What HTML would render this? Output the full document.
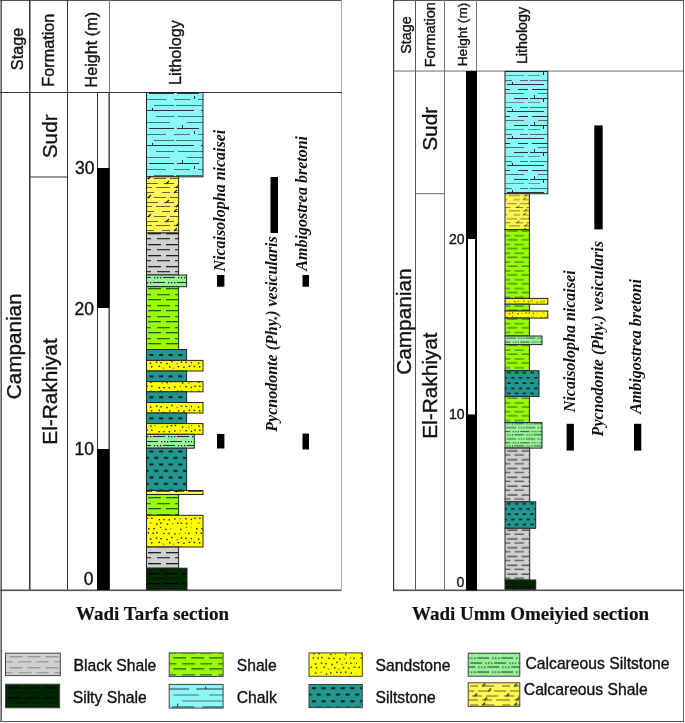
<!DOCTYPE html>
<html><head><meta charset="utf-8"><title>Stratigraphic sections</title>
<style>
html,body{margin:0;padding:0;background:#fff;width:685px;height:723px;overflow:hidden}
svg{display:block;will-change:transform}
</style></head><body>
<svg width="685" height="723" viewBox="0 0 685 723" shape-rendering="auto">
<defs>
<pattern id="chalk" patternUnits="userSpaceOnUse" width="58" height="35" x="0" y="3">
<rect width="58" height="35" fill="#8cf9f9"/>
<rect x="0" y="2" width="20" height="1" fill="#2a3434"/>
<rect x="27" y="2" width="31" height="1" fill="#2a3434"/>
<rect x="36" y="-1" width="1" height="3" fill="#1a2a2a"/>
<rect x="4" y="8" width="26" height="1" fill="#4e7070"/>
<rect x="40" y="8" width="18" height="1" fill="#4e7070"/>
<rect x="13" y="14" width="41" height="1" fill="#4e7070"/>
<rect x="3" y="20" width="22" height="1" fill="#2a3434"/>
<rect x="33" y="20" width="25" height="1" fill="#2a3434"/>
<rect x="8" y="17" width="1" height="3" fill="#1a2a2a"/>
<rect x="0" y="26" width="16" height="1" fill="#4e7070"/>
<rect x="24" y="26" width="26" height="1" fill="#4e7070"/>
<rect x="20" y="23" width="1" height="3" fill="#1a2a2a"/>
<rect x="2" y="32" width="26" height="1" fill="#4e7070"/>
<rect x="38" y="32" width="20" height="1" fill="#4e7070"/>
</pattern>
<pattern id="chalk2" patternUnits="userSpaceOnUse" width="44" height="27" x="0" y="1">
<rect width="44" height="27" fill="#8cf9f9"/>
<rect x="0" y="2" width="16" height="1" fill="#2a3434"/>
<rect x="23" y="2" width="21" height="1" fill="#2a3434"/>
<rect x="28" y="-1" width="1" height="3" fill="#1a2a2a"/>
<rect x="4" y="7" width="22" height="1" fill="#2a3434"/>
<rect x="34" y="7" width="10" height="1" fill="#2a3434"/>
<rect x="10" y="11" width="30" height="1" fill="#4e7070"/>
<rect x="2" y="16" width="18" height="1" fill="#2a3434"/>
<rect x="30" y="16" width="14" height="1" fill="#2a3434"/>
<rect x="6" y="13" width="1" height="3" fill="#1a2a2a"/>
<rect x="0" y="20" width="12" height="1" fill="#5a9a9a"/>
<rect x="20" y="20" width="20" height="1" fill="#5a9a9a"/>
<rect x="15" y="17" width="1" height="3" fill="#1a2a2a"/>
<rect x="2" y="25" width="26" height="1" fill="#4e7070"/>
<rect x="36" y="25" width="8" height="1" fill="#4e7070"/>
</pattern>
<pattern id="cshale" patternUnits="userSpaceOnUse" width="32" height="19" x="0" y="0">
<rect width="32" height="19" fill="#fff855"/>
<rect x="2" y="2" width="8" height="1" fill="#6e5e28"/>
<rect x="14" y="2" width="12" height="1" fill="#6e5e28"/>
<path d="M14 3 L17 0" stroke="#111" stroke-width="1.1"/>
<rect x="0" y="7" width="6" height="1" fill="#6e5e28"/>
<rect x="10" y="7" width="12" height="1" fill="#6e5e28"/>
<rect x="26" y="7" width="6" height="1" fill="#6e5e28"/>
<path d="M20 8 L23 5" stroke="#111" stroke-width="1.1"/>
<rect x="4" y="12" width="10" height="1" fill="#6e5e28"/>
<rect x="18" y="12" width="12" height="1" fill="#6e5e28"/>
<path d="M6 13 L9 10" stroke="#111" stroke-width="1.1"/>
<rect x="0" y="16" width="10" height="1" fill="#6e5e28"/>
<rect x="14" y="16" width="10" height="1" fill="#6e5e28"/>
<rect x="28" y="16" width="4" height="1" fill="#6e5e28"/>
<path d="M16 17 L19 14" stroke="#111" stroke-width="1.1"/>
</pattern>
<pattern id="bshale" patternUnits="userSpaceOnUse" width="36" height="11" x="0" y="0">
<rect width="36" height="11" fill="#d0d0d0"/>
<rect x="4" y="2" width="13" height="1.3" fill="#1e1e1e"/>
<rect x="22" y="2" width="13" height="1.3" fill="#1e1e1e"/>
<rect x="-5" y="7" width="12" height="1.3" fill="#383838"/>
<rect x="13" y="7" width="13" height="1.3" fill="#383838"/>
<rect x="31" y="7" width="12" height="1.3" fill="#383838"/>
</pattern>
<pattern id="bshaleL" patternUnits="userSpaceOnUse" width="36" height="11" x="0" y="0">
<rect width="36" height="11" fill="#d0d0d0"/>
<rect x="4" y="2" width="13" height="1" fill="#808080"/>
<rect x="22" y="2" width="13" height="1" fill="#808080"/>
<rect x="-5" y="7" width="12" height="1" fill="#8a8a8a"/>
<rect x="13" y="7" width="13" height="1" fill="#8a8a8a"/>
<rect x="31" y="7" width="12" height="1" fill="#8a8a8a"/>
</pattern>
<pattern id="shale" patternUnits="userSpaceOnUse" width="36" height="11" x="0" y="0">
<rect width="36" height="11" fill="#99ff00"/>
<rect x="4" y="2" width="13" height="1.3" fill="#2f5a0c"/>
<rect x="22" y="2" width="13" height="1.3" fill="#2f5a0c"/>
<rect x="-5" y="8" width="12" height="1.3" fill="#3b6a10"/>
<rect x="13" y="8" width="13" height="1.3" fill="#3b6a10"/>
<rect x="31" y="8" width="12" height="1.3" fill="#3b6a10"/>
</pattern>
<pattern id="shaleL" patternUnits="userSpaceOnUse" width="36" height="11" x="0" y="0">
<rect width="36" height="11" fill="#99ff00"/>
<rect x="4" y="2" width="13" height="1.3" fill="#2f5a0c"/>
<rect x="22" y="2" width="13" height="1.3" fill="#2f5a0c"/>
<rect x="-5" y="8" width="12" height="1.3" fill="#3b6a10"/>
<rect x="13" y="8" width="13" height="1.3" fill="#3b6a10"/>
<rect x="31" y="8" width="12" height="1.3" fill="#3b6a10"/>
</pattern>
<pattern id="silt" patternUnits="userSpaceOnUse" width="9.6" height="13" x="0" y="0">
<rect width="9.6" height="13" fill="#23968f"/>
<rect x="3" y="3" width="4" height="1.6" fill="#000"/>
<rect x="-1.8" y="9.5" width="4" height="1.6" fill="#000"/>
<rect x="7.8" y="9.5" width="4" height="1.6" fill="#000"/>
</pattern>
<pattern id="sand" patternUnits="userSpaceOnUse" width="48" height="44" x="0" y="0">
<rect width="48" height="44" fill="#ffff00"/>
<rect x="47.5" y="43.2" width="1.5" height="1.4" fill="#222"/>
<rect x="4.1" y="0.1" width="1.5" height="1.4" fill="#222"/>
<rect x="9.3" y="0.0" width="1.5" height="1.4" fill="#222"/>
<rect x="15.8" y="43.1" width="1.5" height="1.4" fill="#222"/>
<rect x="21.1" y="0.7" width="1.5" height="1.4" fill="#222"/>
<rect x="25.8" y="0.3" width="1.5" height="1.4" fill="#8a8a30"/>
<rect x="32.2" y="43.8" width="1.5" height="1.4" fill="#8a8a30"/>
<rect x="36.0" y="0.8" width="1.5" height="1.4" fill="#222"/>
<rect x="41.6" y="43.2" width="1.5" height="1.4" fill="#222"/>
<rect x="3.6" y="4.2" width="1.5" height="1.4" fill="#222"/>
<rect x="8.5" y="4.6" width="1.5" height="1.4" fill="#222"/>
<rect x="12.1" y="3.9" width="1.5" height="1.4" fill="#222"/>
<rect x="19.2" y="4.7" width="1.5" height="1.4" fill="#222"/>
<rect x="24.3" y="4.8" width="1.5" height="1.4" fill="#222"/>
<rect x="30.2" y="5.3" width="1.5" height="1.4" fill="#222"/>
<rect x="34.9" y="4.9" width="1.5" height="1.4" fill="#8a8a30"/>
<rect x="40.7" y="4.4" width="1.5" height="1.4" fill="#8a8a30"/>
<rect x="44.2" y="4.7" width="1.5" height="1.4" fill="#222"/>
<rect x="47.0" y="9.8" width="1.5" height="1.4" fill="#222"/>
<rect x="5.8" y="10.4" width="1.5" height="1.4" fill="#222"/>
<rect x="11.8" y="9.4" width="1.5" height="1.4" fill="#222"/>
<rect x="16.3" y="10.0" width="1.5" height="1.4" fill="#222"/>
<rect x="22.4" y="10.8" width="1.5" height="1.4" fill="#222"/>
<rect x="27.2" y="8.8" width="1.5" height="1.4" fill="#222"/>
<rect x="32.4" y="10.9" width="1.5" height="1.4" fill="#8a8a30"/>
<rect x="36.7" y="9.5" width="1.5" height="1.4" fill="#222"/>
<rect x="41.2" y="9.7" width="1.5" height="1.4" fill="#222"/>
<rect x="1.6" y="13.7" width="1.5" height="1.4" fill="#222"/>
<rect x="6.9" y="14.1" width="1.5" height="1.4" fill="#222"/>
<rect x="14.5" y="13.7" width="1.5" height="1.4" fill="#222"/>
<rect x="18.8" y="15.5" width="1.5" height="1.4" fill="#8a8a30"/>
<rect x="25.1" y="14.2" width="1.5" height="1.4" fill="#222"/>
<rect x="28.9" y="15.5" width="1.5" height="1.4" fill="#8a8a30"/>
<rect x="33.7" y="14.0" width="1.5" height="1.4" fill="#222"/>
<rect x="39.2" y="14.6" width="1.5" height="1.4" fill="#222"/>
<rect x="44.7" y="13.6" width="1.5" height="1.4" fill="#222"/>
<rect x="47.6" y="19.7" width="1.5" height="1.4" fill="#8a8a30"/>
<rect x="5.9" y="19.6" width="1.5" height="1.4" fill="#222"/>
<rect x="11.2" y="18.6" width="1.5" height="1.4" fill="#8a8a30"/>
<rect x="16.8" y="20.4" width="1.5" height="1.4" fill="#222"/>
<rect x="21.0" y="19.3" width="1.5" height="1.4" fill="#222"/>
<rect x="27.1" y="18.6" width="1.5" height="1.4" fill="#222"/>
<rect x="31.1" y="18.8" width="1.5" height="1.4" fill="#222"/>
<rect x="36.0" y="18.5" width="1.5" height="1.4" fill="#222"/>
<rect x="41.5" y="19.3" width="1.5" height="1.4" fill="#222"/>
<rect x="3.8" y="24.7" width="1.5" height="1.4" fill="#222"/>
<rect x="7.3" y="24.1" width="1.5" height="1.4" fill="#222"/>
<rect x="12.2" y="25.2" width="1.5" height="1.4" fill="#8a8a30"/>
<rect x="18.6" y="24.4" width="1.5" height="1.4" fill="#222"/>
<rect x="22.8" y="24.1" width="1.5" height="1.4" fill="#222"/>
<rect x="30.4" y="23.7" width="1.5" height="1.4" fill="#222"/>
<rect x="36.1" y="24.5" width="1.5" height="1.4" fill="#222"/>
<rect x="40.2" y="23.4" width="1.5" height="1.4" fill="#222"/>
<rect x="46.8" y="25.2" width="1.5" height="1.4" fill="#222"/>
<rect x="47.3" y="29.0" width="1.5" height="1.4" fill="#222"/>
<rect x="6.1" y="29.4" width="1.5" height="1.4" fill="#222"/>
<rect x="10.2" y="28.7" width="1.5" height="1.4" fill="#8a8a30"/>
<rect x="17.5" y="30.1" width="1.5" height="1.4" fill="#8a8a30"/>
<rect x="22.3" y="29.9" width="1.5" height="1.4" fill="#222"/>
<rect x="26.7" y="29.0" width="1.5" height="1.4" fill="#222"/>
<rect x="30.6" y="28.8" width="1.5" height="1.4" fill="#222"/>
<rect x="37.9" y="30.3" width="1.5" height="1.4" fill="#222"/>
<rect x="44.0" y="30.4" width="1.5" height="1.4" fill="#8a8a30"/>
<rect x="2.3" y="33.6" width="1.5" height="1.4" fill="#222"/>
<rect x="7.1" y="33.6" width="1.5" height="1.4" fill="#222"/>
<rect x="14.6" y="35.0" width="1.5" height="1.4" fill="#222"/>
<rect x="19.2" y="34.9" width="1.5" height="1.4" fill="#222"/>
<rect x="24.5" y="35.1" width="1.5" height="1.4" fill="#222"/>
<rect x="30.1" y="34.2" width="1.5" height="1.4" fill="#222"/>
<rect x="35.6" y="33.9" width="1.5" height="1.4" fill="#8a8a30"/>
<rect x="41.4" y="34.0" width="1.5" height="1.4" fill="#222"/>
<rect x="46.7" y="34.7" width="1.5" height="1.4" fill="#222"/>
<rect x="46.9" y="38.3" width="1.5" height="1.4" fill="#8a8a30"/>
<rect x="6.3" y="38.3" width="1.5" height="1.4" fill="#8a8a30"/>
<rect x="12.1" y="39.5" width="1.5" height="1.4" fill="#222"/>
<rect x="16.1" y="38.3" width="1.5" height="1.4" fill="#222"/>
<rect x="22.7" y="39.4" width="1.5" height="1.4" fill="#222"/>
<rect x="28.0" y="39.0" width="1.5" height="1.4" fill="#8a8a30"/>
<rect x="33.0" y="38.5" width="1.5" height="1.4" fill="#222"/>
<rect x="36.7" y="38.5" width="1.5" height="1.4" fill="#222"/>
<rect x="41.9" y="38.9" width="1.5" height="1.4" fill="#222"/>
</pattern>
<pattern id="csilt" patternUnits="userSpaceOnUse" width="48" height="14" x="0" y="0">
<rect width="48" height="14" fill="#98f498"/>
<rect x="0" y="2" width="1.3" height="1.3" fill="#1a1a1a"/>
<rect x="3" y="2" width="1.3" height="1.3" fill="#1a1a1a"/>
<rect x="6" y="2" width="1.3" height="1.3" fill="#1a1a1a"/>
<rect x="9" y="2" width="12" height="1" fill="#2a2a2a"/>
<rect x="24" y="2" width="1.3" height="1.3" fill="#1a1a1a"/>
<rect x="27" y="2" width="1.3" height="1.3" fill="#1a1a1a"/>
<rect x="30" y="2" width="1.3" height="1.3" fill="#1a1a1a"/>
<rect x="33" y="2" width="12" height="1" fill="#2a2a2a"/>
<rect x="17" y="7" width="1.3" height="1.3" fill="#1a1a1a"/>
<rect x="20" y="7" width="1.3" height="1.3" fill="#1a1a1a"/>
<rect x="23" y="7" width="1.3" height="1.3" fill="#1a1a1a"/>
<rect x="26" y="7" width="12" height="1" fill="#2a2a2a"/>
<rect x="41" y="7" width="1.3" height="1.3" fill="#1a1a1a"/>
<rect x="44" y="7" width="1.3" height="1.3" fill="#1a1a1a"/>
<rect x="47" y="7" width="1.3" height="1.3" fill="#1a1a1a"/>
<rect x="2" y="7" width="12" height="1" fill="#2a2a2a"/>
<rect x="34" y="11" width="1.3" height="1.3" fill="#1a1a1a"/>
<rect x="37" y="11" width="1.3" height="1.3" fill="#1a1a1a"/>
<rect x="40" y="11" width="1.3" height="1.3" fill="#1a1a1a"/>
<rect x="43" y="11" width="12" height="1" fill="#2a2a2a"/>
<rect x="-5" y="11" width="12" height="1" fill="#2a2a2a"/>
<rect x="10" y="11" width="1.3" height="1.3" fill="#1a1a1a"/>
<rect x="13" y="11" width="1.3" height="1.3" fill="#1a1a1a"/>
<rect x="16" y="11" width="1.3" height="1.3" fill="#1a1a1a"/>
<rect x="19" y="11" width="12" height="1" fill="#2a2a2a"/>
</pattern>
<pattern id="sshale" patternUnits="userSpaceOnUse" width="36" height="10" x="0" y="0">
<rect width="36" height="10" fill="#002800"/>
<rect x="2" y="3" width="14" height="1.2" fill="#000"/>
<rect x="20" y="3" width="14" height="1.2" fill="#000"/>
<rect x="8" y="8" width="14" height="1" fill="#001200"/>
<rect x="26" y="8" width="14" height="1" fill="#001200"/>
</pattern>
<pattern id="cshaleR" href="#cshale" patternTransform="scale(0.8)"/>
<pattern id="bshaleR" href="#bshale" patternTransform="scale(0.8)"/>
<pattern id="shaleR" href="#shale" patternTransform="scale(0.8)"/>
<pattern id="siltR" href="#silt" patternTransform="scale(0.8)"/>
<pattern id="sandR" href="#sand" patternTransform="scale(0.8)"/>
<pattern id="csiltR" href="#csilt" patternTransform="scale(0.8)"/>
<pattern id="sshaleR" href="#sshale" patternTransform="scale(0.8)"/>
<pattern id="st1" href="#silt" x="146.50" y="351.15"/>
<pattern id="st2" href="#silt" x="146.50" y="372.50"/>
<pattern id="st3" href="#silt" x="146.50" y="393.35"/>
<pattern id="st4" href="#silt" x="146.50" y="414.50"/>
<pattern id="st5" href="#silt" x="146.50" y="447.60"/>
<pattern id="st6" href="#siltR" x="631.25" y="462.07"/>
<pattern id="st7" href="#siltR" x="631.25" y="625.95"/>
<pattern id="leg0" href="#bshaleL" x="5.5" y="654.3"/>
<pattern id="leg1" href="#sshale" x="5.5" y="684.2"/>
<pattern id="leg2" href="#shaleL" x="169.2" y="655.2"/>
<pattern id="leg3" href="#chalk" x="169.2" y="686.5"/>
<pattern id="leg4" href="#sand" x="309" y="652.9"/>
<pattern id="leg5" href="#silt" x="309" y="684.4"/>
<pattern id="leg6" href="#csilt" x="468.2" y="655.5"/>
<pattern id="leg7" href="#cshale" x="468.2" y="683.5"/>
</defs>
<rect width="685" height="723" fill="#fff"/>
<rect x="0" y="0" width="1" height="722" fill="#a0a0a0"/>
<rect x="1" y="0" width="1" height="722" fill="#5a5a5a"/>
<rect x="0" y="0" width="342" height="1" fill="#555"/>
<rect x="393" y="0" width="291" height="1" fill="#555"/>
<rect x="0" y="721" width="684" height="1" fill="#555"/>
<rect x="683" y="0" width="1" height="722" fill="#666"/>
<rect x="0" y="589.5" width="342" height="1.6" fill="#555"/>
<rect x="393" y="589.5" width="291" height="1.6" fill="#555"/>
<rect x="341" y="0" width="1" height="591" fill="#aaa"/>
<rect x="393" y="0" width="1.2" height="591" fill="#333"/>
<line x1="0" y1="92.5" x2="342" y2="92.5" stroke="#333" stroke-width="1"/>
<rect x="29" y="0" width="1.5" height="590" fill="#333"/>
<line x1="67.5" y1="0" x2="67.5" y2="590" stroke="#333" stroke-width="1"/>
<line x1="109.5" y1="0" x2="109.5" y2="590" stroke="#777" stroke-width="1"/>
<line x1="29.5" y1="177" x2="67.5" y2="177" stroke="#333" stroke-width="1"/>
<rect x="97.5" y="92.5" width="11.5" height="497" fill="#fff" stroke="#333" stroke-width="1"/>
<rect x="97" y="168" width="12.5" height="140" fill="#000"/>
<rect x="97" y="449" width="12.5" height="141" fill="#000"/>
<rect x="146.5" y="92.5" width="56.5" height="84.30000000000001" fill="url(#chalk)" stroke="#222" stroke-width="1"/>
<rect x="146.5" y="176.8" width="32.099999999999994" height="56.19999999999999" fill="url(#cshale)" stroke="#222" stroke-width="1"/>
<rect x="146.5" y="233" width="32.099999999999994" height="42" fill="url(#bshale)" stroke="#222" stroke-width="1"/>
<rect x="146.5" y="275" width="40.099999999999994" height="11.699999999999989" fill="url(#csilt)" stroke="#222" stroke-width="1"/>
<rect x="146.5" y="286.7" width="32.099999999999994" height="62.80000000000001" fill="url(#shale)" stroke="#222" stroke-width="1"/>
<rect x="146.5" y="349.5" width="40.099999999999994" height="10.899999999999977" fill="url(#st1)" stroke="#222" stroke-width="1"/>
<rect x="146.5" y="360.4" width="56.5" height="10.600000000000023" fill="url(#sand)" stroke="#222" stroke-width="1"/>
<rect x="146.5" y="371" width="40.099999999999994" height="10.600000000000023" fill="url(#st2)" stroke="#222" stroke-width="1"/>
<rect x="146.5" y="381.6" width="56.5" height="10.199999999999989" fill="url(#sand)" stroke="#222" stroke-width="1"/>
<rect x="146.5" y="391.8" width="40.099999999999994" height="10.699999999999989" fill="url(#st3)" stroke="#222" stroke-width="1"/>
<rect x="146.5" y="402.5" width="56.5" height="10.5" fill="url(#sand)" stroke="#222" stroke-width="1"/>
<rect x="146.5" y="413" width="40.099999999999994" height="10.600000000000023" fill="url(#st4)" stroke="#222" stroke-width="1"/>
<rect x="146.5" y="423.6" width="56.5" height="10.699999999999989" fill="url(#sand)" stroke="#222" stroke-width="1"/>
<rect x="146.5" y="434.3" width="47.80000000000001" height="13.899999999999977" fill="url(#csilt)" stroke="#222" stroke-width="1"/>
<rect x="146.5" y="448.2" width="40.099999999999994" height="42.30000000000001" fill="url(#st5)" stroke="#222" stroke-width="1"/>
<rect x="146.5" y="490.5" width="56.5" height="4.0" fill="url(#cshale)" stroke="#222" stroke-width="1"/>
<rect x="146.5" y="494.5" width="32.099999999999994" height="20.799999999999955" fill="url(#shale)" stroke="#222" stroke-width="1"/>
<rect x="146.5" y="515.3" width="56.5" height="31.700000000000045" fill="url(#sand)" stroke="#222" stroke-width="1"/>
<rect x="146.5" y="547" width="32.099999999999994" height="21.200000000000045" fill="url(#bshale)" stroke="#222" stroke-width="1"/>
<rect x="146.5" y="568.2" width="40.5" height="21.59999999999991" fill="url(#sshale)" stroke="#222" stroke-width="1"/>
<rect x="217" y="275" width="7.4" height="11.7" fill="#000"/>
<rect x="217" y="434" width="7.4" height="14.5" fill="#000"/>
<rect x="270.5" y="177" width="7.5" height="56" fill="#000"/>
<rect x="302.5" y="275" width="6.5" height="11.7" fill="#000"/>
<rect x="302.5" y="433.6" width="6.5" height="15.9" fill="#000"/>
<text transform="translate(23.3,49) rotate(-90)" text-anchor="middle" font-family="Liberation Sans" font-size="16.2" fill="#111" stroke="#111" stroke-width="0.35">Stage</text>
<text transform="translate(54,50.2) rotate(-90)" text-anchor="middle" font-family="Liberation Sans" font-size="16.2" fill="#111" stroke="#111" stroke-width="0.35">Formation</text>
<text transform="translate(97,49.7) rotate(-90)" text-anchor="middle" font-family="Liberation Sans" font-size="16.2" fill="#111" stroke="#111" stroke-width="0.35">Height (m)</text>
<text transform="translate(180.7,52.5) rotate(-90)" text-anchor="middle" font-family="Liberation Sans" font-size="16.2" fill="#111" stroke="#111" stroke-width="0.35">Lithology</text>
<text transform="translate(57,136.3) rotate(-90)" text-anchor="middle" font-family="Liberation Sans" font-size="20.8" fill="#111" stroke="#111" stroke-width="0.35">Sudr</text>
<text transform="translate(20.5,346.3) rotate(-90)" text-anchor="middle" font-family="Liberation Sans" font-size="20.7" fill="#111" stroke="#111" stroke-width="0.35">Campanian</text>
<text transform="translate(57,391.5) rotate(-90)" text-anchor="middle" font-family="Liberation Sans" font-size="20.8" fill="#111" stroke="#111" stroke-width="0.35">El-Rakhiyat</text>
<text transform="translate(225.4,200.6) rotate(-90)" text-anchor="middle" font-family="Liberation Serif" font-weight="bold" font-style="italic" font-size="16" fill="#111">Nicaisolopha nicaisei</text>
<text transform="translate(307.1,203.3) rotate(-90)" text-anchor="middle" font-family="Liberation Serif" font-weight="bold" font-style="italic" font-size="16" fill="#111">Ambigostrea bretoni</text>
<text transform="translate(277.4,334) rotate(-90)" text-anchor="middle" font-family="Liberation Serif" font-weight="bold" font-style="italic" font-size="16" fill="#111">Pycnodonte (Phy.) vesicularis</text>
<text x="94.5" y="173.8" text-anchor="end" font-family="Liberation Sans" font-size="17.5" fill="#111" stroke="#111" stroke-width="0.35">30</text>
<text x="94" y="314.5" text-anchor="end" font-family="Liberation Sans" font-size="17.5" fill="#111" stroke="#111" stroke-width="0.35">20</text>
<text x="94" y="454.5" text-anchor="end" font-family="Liberation Sans" font-size="17.5" fill="#111" stroke="#111" stroke-width="0.35">10</text>
<text x="93.5" y="584.5" text-anchor="end" font-family="Liberation Sans" font-size="17.5" fill="#111" stroke="#111" stroke-width="0.35">0</text>
<rect x="394" y="70.4" width="289" height="1.3" fill="#8c8c8c"/>
<line x1="415.5" y1="0" x2="415.5" y2="590" stroke="#555" stroke-width="1"/>
<line x1="444.5" y1="0" x2="444.5" y2="590" stroke="#777" stroke-width="1"/>
<line x1="476.5" y1="0" x2="476.5" y2="590" stroke="#777" stroke-width="1"/>
<line x1="415.5" y1="193.7" x2="444.5" y2="193.7" stroke="#666" stroke-width="1"/>
<rect x="467" y="72" width="9" height="517.5" fill="#fff" stroke="#000" stroke-width="2"/>
<rect x="466" y="71.5" width="11" height="167.5" fill="#000"/>
<rect x="466" y="414.4" width="11" height="175.6" fill="#000"/>
<rect x="505" y="71.5" width="42.799999999999955" height="122.19999999999999" fill="url(#chalk2)" stroke="#222" stroke-width="1"/>
<rect x="505" y="193.7" width="24.399999999999977" height="36.0" fill="url(#cshaleR)" stroke="#222" stroke-width="1"/>
<rect x="505" y="229.7" width="24.399999999999977" height="68.69999999999999" fill="url(#shaleR)" stroke="#222" stroke-width="1"/>
<rect x="505" y="298.4" width="42.799999999999955" height="5.800000000000011" fill="url(#sandR)" stroke="#222" stroke-width="1"/>
<rect x="505" y="304.2" width="24.399999999999977" height="6.800000000000011" fill="url(#shaleR)" stroke="#222" stroke-width="1"/>
<rect x="505" y="311" width="42.799999999999955" height="7.100000000000023" fill="url(#sandR)" stroke="#222" stroke-width="1"/>
<rect x="505" y="318.1" width="24.399999999999977" height="17.899999999999977" fill="url(#shaleR)" stroke="#222" stroke-width="1"/>
<rect x="505" y="336" width="37" height="8.600000000000023" fill="url(#csiltR)" stroke="#222" stroke-width="1"/>
<rect x="505" y="344.6" width="24.399999999999977" height="26.099999999999966" fill="url(#shaleR)" stroke="#222" stroke-width="1"/>
<rect x="505" y="370.7" width="34" height="25.69999999999999" fill="url(#st6)" stroke="#222" stroke-width="1"/>
<rect x="505" y="396.4" width="24.399999999999977" height="26.200000000000045" fill="url(#shaleR)" stroke="#222" stroke-width="1"/>
<rect x="505" y="422.6" width="37" height="25.5" fill="url(#csiltR)" stroke="#222" stroke-width="1"/>
<rect x="505" y="448.1" width="24.700000000000045" height="53.69999999999999" fill="url(#bshaleR)" stroke="#222" stroke-width="1"/>
<rect x="505" y="501.8" width="30.700000000000045" height="26.499999999999943" fill="url(#st7)" stroke="#222" stroke-width="1"/>
<rect x="505" y="528.3" width="24.700000000000045" height="51.700000000000045" fill="url(#bshaleR)" stroke="#222" stroke-width="1"/>
<rect x="505" y="580" width="30.700000000000045" height="9.299999999999955" fill="url(#sshaleR)" stroke="#222" stroke-width="1"/>
<rect x="566.6" y="423.8" width="7.3" height="26.8" fill="#000"/>
<rect x="594.3" y="125.4" width="8.4" height="104" fill="#000"/>
<rect x="634" y="423.8" width="7.3" height="26.8" fill="#000"/>
<text transform="translate(410.5,35) rotate(-90)" text-anchor="middle" font-family="Liberation Sans" font-size="14.4" fill="#111" stroke="#111" stroke-width="0.35">Stage</text>
<text transform="translate(434.7,34.7) rotate(-90)" text-anchor="middle" font-family="Liberation Sans" font-size="14.5" fill="#111" stroke="#111" stroke-width="0.35">Formation</text>
<text transform="translate(466.7,34.5) rotate(-90)" text-anchor="middle" font-family="Liberation Sans" font-size="13.6" fill="#111" stroke="#111" stroke-width="0.35">Height (m)</text>
<text transform="translate(527.3,35.5) rotate(-90)" text-anchor="middle" font-family="Liberation Sans" font-size="14.3" fill="#111" stroke="#111" stroke-width="0.35">Lithology</text>
<text transform="translate(436.9,128.8) rotate(-90)" text-anchor="middle" font-family="Liberation Sans" font-size="20.9" fill="#111" stroke="#111" stroke-width="0.35">Sudr</text>
<text transform="translate(411.3,321.6) rotate(-90)" text-anchor="middle" font-family="Liberation Sans" font-size="20.8" fill="#111" stroke="#111" stroke-width="0.35">Campanian</text>
<text transform="translate(436.6,385.6) rotate(-90)" text-anchor="middle" font-family="Liberation Sans" font-size="20.8" fill="#111" stroke="#111" stroke-width="0.35">El-Rakhiyat</text>
<text transform="translate(575.3,341.3) rotate(-90)" text-anchor="middle" font-family="Liberation Serif" font-weight="bold" font-style="italic" font-size="16" fill="#111">Nicaisolopha nicaisei</text>
<text transform="translate(603.2,338.7) rotate(-90)" text-anchor="middle" font-family="Liberation Serif" font-weight="bold" font-style="italic" font-size="16" fill="#111">Pycnodonte (Phy.) vesicularis</text>
<text transform="translate(640.8,346.4) rotate(-90)" text-anchor="middle" font-family="Liberation Serif" font-weight="bold" font-style="italic" font-size="16" fill="#111">Ambigostrea bretoni</text>
<text x="464.6" y="244" text-anchor="end" font-family="Liberation Sans" font-size="14" fill="#111" stroke="#111" stroke-width="0.35">20</text>
<text x="464.6" y="419" text-anchor="end" font-family="Liberation Sans" font-size="14" fill="#111" stroke="#111" stroke-width="0.35">10</text>
<text x="464.3" y="586.5" text-anchor="end" font-family="Liberation Sans" font-size="14" fill="#111" stroke="#111" stroke-width="0.35">0</text>
<text x="76" y="620" text-anchor="start" font-family="Liberation Serif" font-weight="bold" font-size="19" fill="#111" stroke="#111" stroke-width="0.15">Wadi Tarfa section</text>
<text x="412" y="620" text-anchor="start" font-family="Liberation Serif" font-weight="bold" font-size="19" fill="#111" stroke="#111" stroke-width="0.15">Wadi Umm Omeiyied section</text>
<rect x="5.5" y="653.2" width="54.8" height="22.399999999999977" fill="url(#leg0)" stroke="#444" stroke-width="1"/>
<text x="73.5" y="670.8" text-anchor="start" font-family="Liberation Sans" font-size="15.7" fill="#111" stroke="#111" stroke-width="0.35">Black Shale</text>
<rect x="5.5" y="684.2" width="54.1" height="23.59999999999991" fill="url(#leg1)" stroke="#444" stroke-width="1"/>
<text x="72.7" y="702.6" text-anchor="start" font-family="Liberation Sans" font-size="15.7" fill="#111" stroke="#111" stroke-width="0.35">Silty Shale</text>
<rect x="169.2" y="652.9" width="53.900000000000006" height="23.600000000000023" fill="url(#leg2)" stroke="#444" stroke-width="1"/>
<text x="236.7" y="671.3" text-anchor="start" font-family="Liberation Sans" font-size="15.7" fill="#111" stroke="#111" stroke-width="0.35">Shale</text>
<rect x="169.2" y="684.4" width="53.900000000000006" height="23.700000000000045" fill="url(#leg3)" stroke="#444" stroke-width="1"/>
<text x="236.7" y="702.8" text-anchor="start" font-family="Liberation Sans" font-size="15.7" fill="#111" stroke="#111" stroke-width="0.35">Chalk</text>
<rect x="309" y="652.9" width="53.30000000000001" height="23.399999999999977" fill="url(#leg4)" stroke="#444" stroke-width="1"/>
<text x="375.5" y="671.3" text-anchor="start" font-family="Liberation Sans" font-size="15.7" fill="#111" stroke="#111" stroke-width="0.35">Sandstone</text>
<rect x="309" y="684.5" width="53.30000000000001" height="23.100000000000023" fill="url(#leg5)" stroke="#444" stroke-width="1"/>
<text x="375.5" y="702.8" text-anchor="start" font-family="Liberation Sans" font-size="15.7" fill="#111" stroke="#111" stroke-width="0.35">Siltstone</text>
<rect x="468.2" y="653.2" width="51.599999999999966" height="23.0" fill="url(#leg6)" stroke="#444" stroke-width="1"/>
<text x="525.5" y="669.2" text-anchor="start" font-family="Liberation Sans" font-size="15.7" fill="#111" stroke="#111" stroke-width="0.35">Calcareous Siltstone</text>
<rect x="468.2" y="682.8" width="51.599999999999966" height="23.600000000000023" fill="url(#leg7)" stroke="#444" stroke-width="1"/>
<text x="523.8" y="695.2" text-anchor="start" font-family="Liberation Sans" font-size="15.7" fill="#111" stroke="#111" stroke-width="0.35">Calcareous Shale</text>
</svg>
</body></html>
